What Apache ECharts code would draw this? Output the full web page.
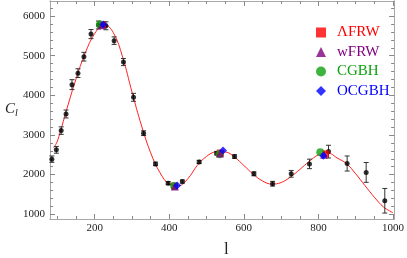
<!DOCTYPE html>
<html>
<head>
<meta charset="utf-8">
<script src="https://cdn.jsdelivr.net/npm/echarts@6/dist/echarts.min.js"></script>
<style>html,body{margin:0;padding:0;background:#fff}#c{width:407px;height:258px}</style>
</head>
<body>
<div id="c"></div>
<script>
// Theory curve
const curveL = [90,100,125,150,175,200,225,250,275,300,325,350,375,400,425,450,475,500,525,550,575,600,625,650,675,700,725,750,775,800,825,850,875,900,925,950,975,1000];
const curveC = [2680,2850,3650,4420,5080,5560,5790,5580,4960,4080,3250,2550,2050,1760,1720,1900,2230,2460,2570,2570,2440,2230,2010,1840,1760,1800,1940,2130,2330,2500,2550,2420,2280,2020,1720,1430,1180,1040];
// Measured band powers with errors
const dataL = [85,97,110,123,139,155,171,190,210,230,252,277,304,331,363,397,435,480,527,575,627,677,727,776,827,877,928,978];
const dataC = [2390,2625,3110,3530,4270,4560,4975,5545,5775,5755,5380,4840,3950,3045,2270,1785,1825,2320,2540,2455,2020,1770,2020,2270,2580,2280,2055,1340];
const dataErr = [80,85,95,100,125,110,110,115,100,100,95,90,100,60,45,40,40,40,45,45,50,60,85,120,160,190,250,310];
// Model predictions at peaks / trough
const lcdmL = [221,414,537,819], lcdmC = [5780,1710,2545,2525];
const wfrwL = [219,415,536,815], wfrwC = [5770,1700,2535,2500];
const cgbhL = [214,413,535,805], cgbhC = [5790,1715,2515,2567];
const ocgbhL = [223,421,544,813], ocgbhC = [5790,1725,2607,2475];

const xMajor = [200,400,600,800,1000];
const xMinor = []; for (let v = 100; v <= 1000; v += 50) xMinor.push(v);
const yMajor = [1000,2000,3000,4000,5000,6000];
const yMinor = []; for (let v = 1000; v <= 6200; v += 200) yMinor.push(v);

const zip = (a, b) => a.map((v, i) => [v, b[i]]);
const serif = 'Liberation Serif';
const frame = '#a8a8a8';

function xAx(pos, ticks, len, labels) {
  return {
    type: 'value', position: pos, min: 80, max: 1003,
    axisLine: { show: true, onZero: false, lineStyle: { color: frame, width: 1 } },
    axisTick: { show: true, inside: true, length: len, customValues: ticks, lineStyle: { color: '#888' } },
    axisLabel: labels ? { show: true, customValues: xMajor, formatter: v => String(v), color: '#222', fontFamily: serif, fontSize: 11, margin: 4 } : { show: false },
    splitLine: { show: false }
  };
}
function yAx(pos, ticks, len, labels) {
  return {
    type: 'value', position: pos, min: 880, max: 6380,
    axisLine: { show: true, onZero: false, lineStyle: { color: frame, width: 1 } },
    axisTick: { show: true, inside: true, length: len, customValues: ticks, lineStyle: { color: '#888' } },
    axisLabel: labels ? { show: true, customValues: yMajor, formatter: v => String(v), color: '#222', fontFamily: serif, fontSize: 11, margin: 5 } : { show: false },
    splitLine: { show: false }
  };
}

const lt = c => ({ color: c, fontFamily: serif, fontSize: 15, padding: [0, 0, 0, 6] });
const chart = echarts.init(document.getElementById('c'), null, { renderer: 'canvas' });
chart.setOption({
  animation: false,
  backgroundColor: '#fff',
  textStyle: { fontFamily: serif },
  grid: { left: 50, right: 9, top: 1, bottom: 39 },
  xAxis: [xAx('bottom', xMajor, 5, true), xAx('bottom', xMinor, 3, false), xAx('top', xMajor, 5, false), xAx('top', xMinor, 3, false)],
  yAxis: [yAx('left', yMajor, 5, true), yAx('left', yMinor, 3, false), yAx('right', yMajor, 5, false), yAx('right', yMinor, 3, false)],
  legend: {
    orient: 'vertical', left: 311, top: 20, itemWidth: 10, itemHeight: 10, itemGap: 4.5,
    textStyle: lt('#000'),
    data: [
      { name: 'ΛFRW', icon: 'rect', textStyle: lt('#ff0000') },
      { name: 'wFRW', icon: 'triangle', textStyle: lt('#800080') },
      { name: 'CGBH', icon: 'circle', textStyle: lt('#0fa00f') },
      { name: 'OCGBH', icon: 'diamond', textStyle: lt('#0000ff') }
    ]
  },
  graphic: [
    { type: 'text', left: 5, top: 102, style: { text: '{c|C}{s|l}', rich: { c: { fontFamily: serif, fontStyle: 'italic', fontSize: 15, fill: '#222' }, s: { fontFamily: serif, fontStyle: 'italic', fontSize: 10, fill: '#222', padding: [8, 0, 0, 0] } } } },
    { type: 'text', left: 224, top: 241, style: { text: 'l', fontFamily: serif, fontSize: 17, fill: '#222' } }
  ],
  series: [
    { type: 'line', name: 'theory', data: zip(curveL, curveC), smooth: 0.4, showSymbol: false, lineStyle: { color: '#ff2020', width: 1 }, z: 2 },
    {
      type: 'custom', name: 'err', z: 3,
      data: dataL.map((l, i) => [l, dataC[i] - dataErr[i], dataC[i] + dataErr[i]]),
      renderItem: function (params, api) {
        const x = api.value(0);
        const p1 = api.coord([x, api.value(1)]), p2 = api.coord([x, api.value(2)]);
        const w = 2.5, st = { stroke: '#333', lineWidth: 1 };
        return { type: 'group', children: [
          { type: 'line', shape: { x1: p1[0], y1: p1[1], x2: p2[0], y2: p2[1] }, style: st },
          { type: 'line', shape: { x1: p1[0] - w, y1: p1[1], x2: p1[0] + w, y2: p1[1] }, style: st },
          { type: 'line', shape: { x1: p2[0] - w, y1: p2[1], x2: p2[0] + w, y2: p2[1] }, style: st }
        ] };
      }
    },
    { type: 'scatter', name: 'data', data: zip(dataL, dataC), symbol: 'circle', symbolSize: 5, itemStyle: { color: '#000' }, z: 4 },
    { type: 'scatter', name: 'ΛFRW', data: zip(lcdmL, lcdmC), symbol: 'rect', symbolSize: 7, itemStyle: { color: '#ff0000' }, z: 5 },
    { type: 'scatter', name: 'CGBH', data: zip(cgbhL, cgbhC), symbol: 'circle', symbolSize: 8, itemStyle: { color: '#0fa00f' }, z: 5 },
    { type: 'scatter', name: 'wFRW', data: zip(wfrwL, wfrwC), symbol: 'triangle', symbolSize: 8, itemStyle: { color: '#800080' }, z: 6 },
    { type: 'scatter', name: 'OCGBH', data: zip(ocgbhL, ocgbhC), symbol: 'diamond', symbolSize: 8, itemStyle: { color: '#0000ff' }, z: 7 }
  ]
});
</script>
</body>
</html>
